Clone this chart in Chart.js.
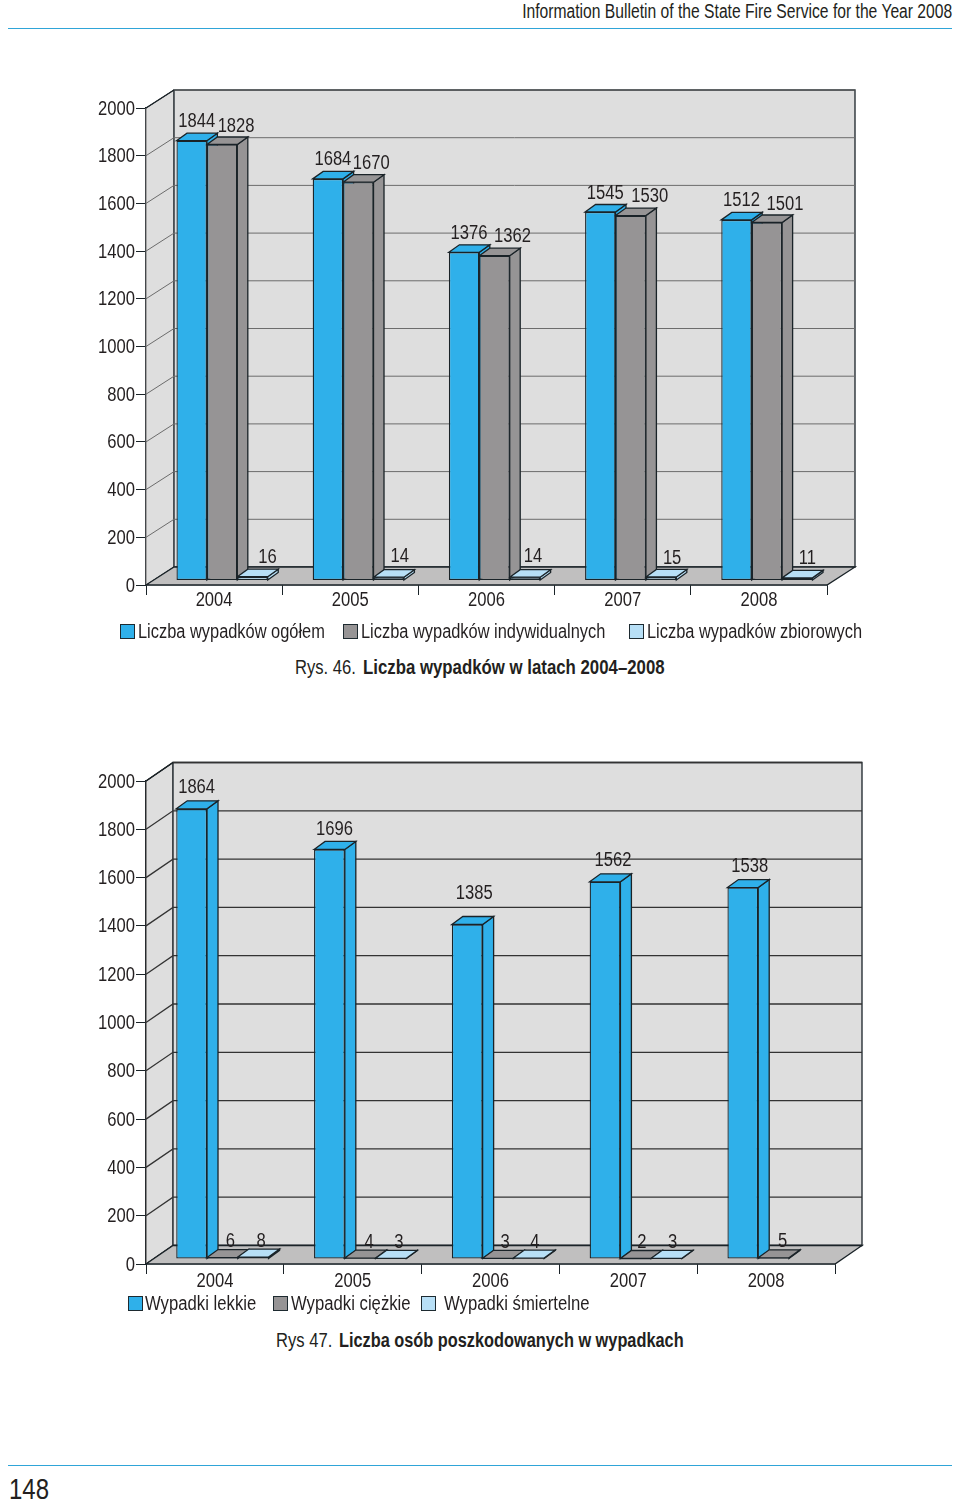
<!DOCTYPE html>
<html>
<head>
<meta charset="utf-8">
<script src="https://cdn.jsdelivr.net/npm/chart.js@4"></script>
<style>
body { margin: 0; background: #fff; }
#page { position: relative; width: 960px; height: 1505px; overflow: hidden; font-family: "Liberation Sans", sans-serif; color: #231f20; font-size: 20px; }
canvas { position: absolute; left: 0; }
.txt { position: absolute; white-space: nowrap; line-height: 24px; transform-origin: 0 50%; transform: scaleX(0.83); }
.rule { position: absolute; left: 8px; width: 944px; height: 1px; background: #2fa5d8; }
.box { position: absolute; width: 13px; height: 13px; border: 1px solid #1d2a30; }
</style>
</head>
<body>
<div id="page">
  <div class="txt" style="right:8px;top:-1px;transform-origin:100% 50%;transform:scaleX(0.783)">Information Bulletin of the State Fire Service for the Year 2008</div>
  <div class="rule" style="top:28px"></div>
  <canvas id="chart46" width="960" height="590" style="top:60px"></canvas>
  <div class="txt" style="left:295px;top:655px">Rys. 46.</div>
  <div class="txt" style="left:363px;top:655px;font-weight:bold;transform:scaleX(0.84)">Liczba wypadków w latach 2004–2008</div>
  <canvas id="chart47" width="960" height="560" style="top:740px"></canvas>
  <div class="txt" style="left:276px;top:1328px">Rys 47.</div>
  <div class="txt" style="left:339px;top:1328px;font-weight:bold;transform:scaleX(0.816)">Liczba osób poszkodowanych w wypadkach</div>
  <div class="rule" style="top:1465px"></div>
  <div class="txt" style="left:9px;top:1477px;font-size:30px;transform:scaleX(0.8)">148</div>
</div>
<script>
const years = ['2004', '2005', '2006', '2007', '2008'];

const accidentsTotal = [1844, 1684, 1376, 1545, 1512];
const accidentsSingle = [1828, 1670, 1362, 1530, 1501];
const accidentsGroup = [16, 14, 14, 15, 11];
const accidentNames = ['Liczba wypadków ogółem', 'Liczba wypadków indywidualnych', 'Liczba wypadków zbiorowych'];

const injuredLight = [1864, 1696, 1385, 1562, 1538];
const injuredSerious = [6, 4, 3, 2, 5];
const injuredFatal = [8, 3, 4, 3, null];
const injuredNames = ['Wypadki lekkie', 'Wypadki ciężkie', 'Wypadki śmiertelne'];

const colors = ['#2fb0ea', '#969495', '#b7dff6'];
const edge = '#1a2328';
const textColor = '#231f20';
const narrow = 0.83; // no condensed font on the box, so text gets squeezed

// the labels in the original were moved by hand, so they get nudged one by one
const nudge46 = [
    [[5, -20], [5, -20], [5, -20], [5, -20], [5, -20]],
    [[14, -19], [13, -20], [18, -20], [19, -20], [18, -19]],
    [[15, -20], [11, -22], [8, -22], [11, -19], [10, -20]],
];
const nudge47 = [
    [[5, -22], [5, -21], [7, -32], [8, -22], [7, -22]],
    [[8, -17], [9, -17], [7, -17], [6, -17], [9, -17]],
    [[8, -17], [8, -17], [6, -17], [6, -17], [0, 0]],
];

const poly = (ctx, pts, fill, stroke, width = 1.3) => {
    ctx.beginPath();
    pts.forEach((p, i) => (i ? ctx.lineTo(p[0], p[1]) : ctx.moveTo(p[0], p[1])));
    ctx.closePath();
    ctx.fillStyle = fill;
    ctx.fill();
    ctx.strokeStyle = stroke;
    ctx.lineWidth = width;
    ctx.stroke();
};

const squeezed = (ctx, text, x, y, align) => {
    ctx.save();
    ctx.translate(x, y + 1);
    ctx.scale(narrow, 1);
    ctx.font = '20px "Liberation Sans", sans-serif';
    ctx.fillStyle = textColor;
    ctx.textAlign = align;
    ctx.textBaseline = 'middle';
    ctx.fillText(text, 0, 0);
    ctx.restore();
};

const boxPlugin = {
    id: 'box',
    beforeDatasetsDraw(chart, args, o) {
        const { ctx, chartArea: a, scales } = chart;
        const dx = o.wallX, dy = o.wallY;
        const base = scales.y.getPixelForValue(0);
        ctx.save();
        // walls and floor
        poly(ctx, [[a.left, a.top], [a.left + dx, a.top - dy], [a.left + dx, base - dy], [a.left, base]], '#dedede', o.grid, 1);
        poly(ctx, [[a.left + dx, a.top - dy], [a.right + dx, a.top - dy], [a.right + dx, base - dy], [a.left + dx, base - dy]], '#dedede', edge);
        ctx.strokeStyle = o.grid;
        ctx.lineWidth = o.gridWidth;
        scales.y.ticks.forEach((t) => {
            const y = scales.y.getPixelForValue(t.value);
            ctx.beginPath();
            ctx.moveTo(a.left, y);
            ctx.lineTo(a.left + dx, y - dy);
            ctx.lineTo(a.right + dx, y - dy);
            ctx.stroke();
        });
        poly(ctx, [[a.left, base], [a.right, base], [a.right + dx, base - dy], [a.left + dx, base - dy]], '#c0bfbf', edge);
        ctx.beginPath();
        ctx.moveTo(a.left, a.top);
        ctx.lineTo(a.left + dx, a.top - dy);
        ctx.strokeStyle = edge;
        ctx.stroke();

        // side and top of every bar go in first, the library paints the fronts over them
        ctx.translate(o.shiftX, -o.shiftY);
        chart.data.datasets.forEach((ds, d) => {
            chart.getDatasetMeta(d).data.forEach((bar, i) => {
                if (ds.data[i] === null) return;
                const { x, y, base: b, width } = bar;
                const l = x - width / 2, r = x + width / 2;
                poly(ctx, [[r, y], [r + o.barX, y - o.barY], [r + o.barX, b - o.barY], [r, b]], colors[d], edge);
                poly(ctx, [[l, y], [l + o.barX, y - o.barY], [r + o.barX, y - o.barY], [r, y]], colors[d], edge);
            });
        });
        ctx.restore();
    },
    beforeDatasetDraw(chart, args, o) {
        chart.ctx.save();
        chart.ctx.translate(o.shiftX, -o.shiftY);
    },
    afterDatasetDraw(chart) {
        chart.ctx.restore();
    },
    afterDraw(chart, args, o) {
        const { ctx, scales } = chart;
        scales.y.ticks.forEach((t, i) => {
            squeezed(ctx, t.label, scales.y.right - 11, scales.y.getPixelForTick(i), 'right');
        });
        scales.x.ticks.forEach((t, i) => {
            squeezed(ctx, t.label, scales.x.getPixelForTick(i), scales.x.top + o.yearGap, 'center');
        });
        chart.data.datasets.forEach((ds, d) => {
            chart.getDatasetMeta(d).data.forEach((bar, i) => {
                if (ds.data[i] === null) return;
                const n = o.nudge[d][i];
                squeezed(ctx, String(ds.data[i]), bar.x + o.shiftX + n[0], bar.y - o.shiftY + n[1], 'center');
            });
        });
    },
};

const makeChart = (id, series, names, opts) => {
    const canvas = document.getElementById(id);
    return new Chart(canvas, {
        type: 'bar',
        data: {
            labels: years,
            datasets: series.map((data, i) => ({
                label: names[i],
                data,
                backgroundColor: colors[i],
                borderColor: edge,
                borderWidth: 1.3,
                borderSkipped: false,
                clip: false,
                categoryPercentage: 0.67,
                barPercentage: 1,
            })),
        },
        options: {
            responsive: false,
            animation: false,
            layout: { padding: { top: opts.top, right: opts.right, left: 0, bottom: 0 } },
            scales: {
                x: {
                    afterFit: (s) => { s.height = opts.bottom; },
                    border: { display: true, color: edge, width: 1.3 },
                    grid: { offset: true, drawOnChartArea: false, color: edge, tickLength: 10 },
                    ticks: { display: false, maxRotation: 0 },
                },
                y: {
                    min: 0,
                    max: 2000,
                    afterFit: (s) => { s.width = 146; },
                    border: { display: true, color: edge, width: 1.3 },
                    grid: { drawOnChartArea: false, color: edge, tickLength: 10 },
                    ticks: { display: false, stepSize: 200, callback: (v) => String(v) },
                },
            },
            plugins: {
                legend: { display: false },
                tooltip: { enabled: false },
                box: opts.box,
            },
        },
        plugins: [boxPlugin],
    });
};

makeChart('chart46', [accidentsTotal, accidentsSingle, accidentsGroup], accidentNames, {
    top: 48, right: 133, bottom: 65,
    box: { wallX: 28, wallY: 18, shiftX: 8, shiftY: 4.5, barX: 10.5, barY: 7.5, grid: '#6c6c6c', gridWidth: 1, yearGap: 14, nudge: nudge46 },
});
makeChart('chart47', [injuredLight, injuredSerious, injuredFatal], injuredNames, {
    top: 41, right: 125, bottom: 36,
    box: { wallX: 27, wallY: 18.5, shiftX: 7.5, shiftY: 5, barX: 11, barY: 8, grid: '#333333', gridWidth: 1.3, yearGap: 16, nudge: nudge47 },
});

// legends sit at their own spots under each chart
const page = document.getElementById('page');
const addLegend = (names, boxX, textX, y, squeeze) => {
    names.forEach((name, i) => {
        const b = document.createElement('div');
        b.className = 'box';
        b.style.cssText = `left:${boxX[i]}px;top:${y - 7}px;background:${colors[i]}`;
        const t = document.createElement('div');
        t.className = 'txt';
        t.style.cssText = `left:${textX[i]}px;top:${y - 12}px;transform:scaleX(${squeeze})`;
        t.textContent = name;
        page.append(b, t);
    });
};
addLegend(accidentNames, [120, 343, 629], [138, 361, 647], 631, 0.82);
addLegend(injuredNames, [128, 273, 421], [145, 291, 444], 1303, 0.835);
</script>
</body>
</html>
